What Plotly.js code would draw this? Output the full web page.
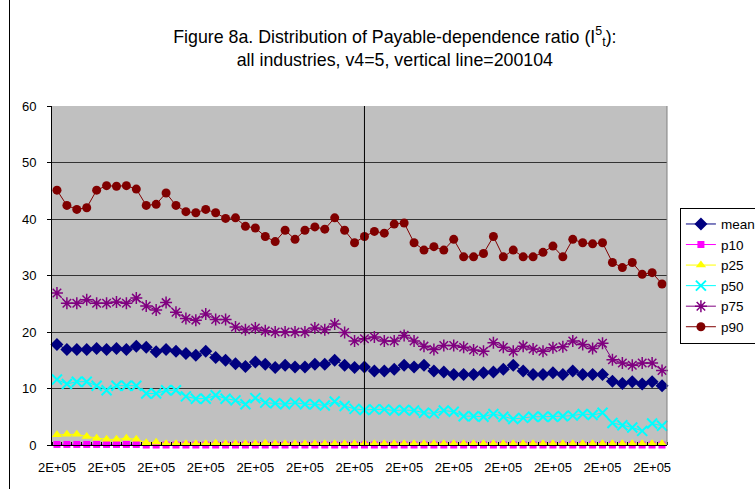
<!DOCTYPE html>
<html>
<head>
<meta charset="utf-8">
<script src="https://cdn.plot.ly/plotly-3.0.1.min.js"></script>
<style>
html,body{margin:0;padding:0;background:#fff;}
#chart{width:755px;height:489px;}
</style>
</head>
<body>
<div id="chart"></div>
<script>
const periods = ["199307","199310",
"199401","199404","199407","199410",
"199501","199504","199507","199510",
"199601","199604","199607","199610",
"199701","199704","199707","199710",
"199801","199804","199807","199810",
"199901","199904","199907","199910",
"200001","200004","200007","200010",
"200101","200104","200107","200110",
"200201","200204","200207","200210",
"200301","200304","200307","200310",
"200401","200404","200407","200410",
"200501","200504","200507","200510",
"200601","200604","200607","200610",
"200701","200704","200707","200710",
"200801","200804","200807","200810"];

const meanVals = [17.8,16.9,16.9,16.9,17.1,16.9,17.1,16.9,17.5,17.3,
16.5,16.9,16.6,16.2,15.9,16.6,15.5,15.0,14.4,13.9,
14.7,14.3,13.7,14.1,13.8,13.8,14.3,14.3,15.0,14.1,
13.7,13.8,13.1,13.1,13.4,14.1,13.8,14.1,13.1,12.9,
12.5,12.5,12.5,12.8,12.9,13.4,14.1,13.1,12.5,12.5,
12.8,12.5,13.1,12.5,12.5,12.5,11.3,10.9,11.2,10.8,
11.2,10.5];

const p10Vals = [0.1,0.1,0.1,0.1,0.1,0.1,0.1,0.1,0.1,0.0,
0.0,0.0,0.0,0.0,0.0,0.0,0.0,0.0,0.0,0.0,
0.0,0.0,0.0,0.0,0.0,0.0,0.0,0.0,0.0,0.0,
0.0,0.0,0.0,0.0,0.0,0.0,0.0,0.0,0.0,0.0,
0.0,0.0,0.0,0.0,0.0,0.0,0.0,0.0,0.0,0.0,
0.0,0.0,0.0,0.0,0.0,0.0,0.0,0.0,0.0,0.0,
0.0,0.0];

const p25Vals = [1.8,1.9,1.9,1.5,1.2,1.0,1.0,1.2,1.0,0.4,
0.5,0.2,0.2,0.2,0.2,0.2,0.3,0.2,0.2,0.2,
0.2,0.3,0.2,0.2,0.2,0.2,0.2,0.2,0.2,0.2,
0.2,0.2,0.2,0.2,0.2,0.2,0.2,0.2,0.2,0.2,
0.2,0.2,0.2,0.2,0.2,0.2,0.2,0.2,0.2,0.2,
0.2,0.2,0.2,0.2,0.2,0.2,0.2,0.2,0.2,0.2,
0.2,0.2];

const p50Vals = [11.6,10.8,11.2,11.2,10.5,9.7,10.5,10.5,10.5,9.1,
9.1,9.7,9.7,8.6,8.2,8.2,8.8,8.2,7.9,7.2,
8.3,7.5,7.4,7.2,7.5,7.2,7.2,7.0,7.7,6.9,
6.4,6.2,6.3,6.3,6.1,6.2,6.1,5.7,5.6,6.1,
5.9,5.1,5.1,5.0,5.5,5.0,4.6,4.8,5.0,5.0,
5.0,5.1,5.2,5.5,5.3,5.7,3.9,3.5,3.1,2.5,
3.8,3.4];

const p75Vals = [26.9,25.1,25.1,25.7,25.1,25.1,25.3,25.1,26.0,24.6,
23.9,25.2,23.5,22.4,22.1,23.2,22.2,22.2,20.9,20.4,
20.7,20.2,20.0,20.0,20.0,20.0,20.7,20.4,21.4,19.9,
18.4,18.8,19.1,18.4,18.4,19.4,18.4,17.5,16.9,17.6,
17.6,17.3,16.8,16.6,18.1,17.3,16.6,17.5,17.0,16.6,
17.2,17.4,18.4,17.8,17.1,18.0,15.1,14.5,14.1,14.5,
14.5,13.2];

const p90Vals = [45.1,42.4,41.7,42.0,45.1,45.9,45.8,45.9,45.3,42.4,
42.6,44.6,42.4,41.3,41.1,41.7,41.1,40.1,40.2,38.7,
38.4,36.9,36.0,38.0,36.4,38.0,38.6,38.2,40.2,38.0,
35.8,36.9,37.8,37.5,39.1,39.3,35.8,34.5,35.1,34.5,
36.4,33.3,33.3,33.9,36.9,33.3,34.5,33.3,33.3,34.1,
35.2,33.3,36.4,35.8,35.6,35.8,32.3,31.4,32.3,30.2,
30.5,28.5];

const seriesNames = ["mean","p10","p25","p50","p75","p90"];
const tickPeriods = ["199307","199410","199601","199704","199807","199910","200101",
"200204","200307","200410","200601","200704","200807"];
const tickLabels = ["2E+05","2E+05","2E+05","2E+05","2E+05","2E+05","2E+05",
"2E+05","2E+05","2E+05","2E+05","2E+05","2E+05"];
const yTicks = [0,10,20,30,40,50,60];
const vlinePeriod = "200104";

const xIdx = periods.map((p, i) => i);
const allVals = [meanVals, p10Vals, p25Vals, p50Vals, p75Vals, p90Vals];
const styles = [
  {color:"#000080", symbol:"diamond", size:10, lw:1},
  {color:"#FF00FF", symbol:"square", size:7, lw:1},
  {color:"#FFFF00", symbol:"triangle-up", size:9, lw:1},
  {color:"#00FFFF", symbol:"x-thin", size:10, lw:2},
  {color:"#800080", symbol:"asterisk", size:10, lw:1.5},
  {color:"#800000", symbol:"circle", size:9, lw:1}
];

const traces = allVals.map((vals, k) => {
  const s = styles[k];
  const thin = s.symbol === "x-thin" || s.symbol === "asterisk";
  return {
    x: xIdx, y: vals, name: seriesNames[k], type: "scatter", mode: "lines+markers",
    line: {color: s.color, width: 1},
    marker: {symbol: s.symbol, size: s.size, color: s.color,
             line: {color: s.color, width: thin ? s.lw : 0}},
    cliponaxis: false
  };
});

const font = "'Liberation Sans', Arial, sans-serif";
const layout = {
  width: 755, height: 489,
  margin: {l: 52, r: 88, t: 106, b: 44, autoexpand: false},
  paper_bgcolor: "#ffffff",
  plot_bgcolor: "#C0C0C0",
  font: {family: font, size: 13, color: "#000"},
  title: {
    text: "Figure 8a. Distribution of Payable-dependence ratio (I<sup>5</sup><sub>t</sub>):<br>all industries, v4=5, vertical line=" + vlinePeriod,
    font: {family: font, size: 17.8, color: "#000"},
    x: 0.523, xref: "container", xanchor: "center",
    y: 0.913, yref: "container", yanchor: "top"
  },
  showlegend: true,
  legend: {
    x: 1.021, xanchor: "left", y: 0.70, yanchor: "top",
    bgcolor: "#ffffff", bordercolor: "#000", borderwidth: 1,
    font: {family: font, size: 13.5, color: "#000"},
    tracegroupgap: 0
  },
  xaxis: {
    range: [-0.5, periods.length - 0.5],
    tickmode: "array",
    tickvals: tickPeriods.map(p => periods.indexOf(p)),
    ticktext: tickLabels,
    ticks: "", showgrid: false, zeroline: false,
    showline: true, linecolor: "#000", linewidth: 1,
    minor: {tick0: 0.5, dtick: 1, ticks: "inside", ticklen: 3, tickcolor: "#000", showgrid: false},
    tickfont: {family: font, size: 13},
    ticklabelstandoff: 10
  },
  yaxis: {
    range: [0, 60],
    tickmode: "array", tickvals: yTicks,
    ticks: "outside", ticklen: 4, tickcolor: "#000",
    showgrid: true, gridcolor: "#333333", gridwidth: 1,
    zeroline: false,
    showline: true, linecolor: "#000", linewidth: 1,
    tickfont: {family: font, size: 13},
    ticklabelstandoff: 8
  },
  shapes: [
    {type: "line", xref: "paper", yref: "paper", x0: 1, x1: 1, y0: 0, y1: 1,
     line: {color: "#808080", width: 1}},
    {type: "line", xref: "x", yref: "paper",
     x0: periods.indexOf(vlinePeriod), x1: periods.indexOf(vlinePeriod), y0: 0, y1: 1,
     line: {color: "#000", width: 1}},
    {type: "line", xref: "paper", yref: "paper", x0: -0.0691, x1: -0.0691, y0: -0.2, y1: 1.4,
     line: {color: "#000", width: 1}}
  ]
};

Plotly.newPlot("chart", traces, layout, {displayModeBar: false, staticPlot: true});
</script>
</body>
</html>
